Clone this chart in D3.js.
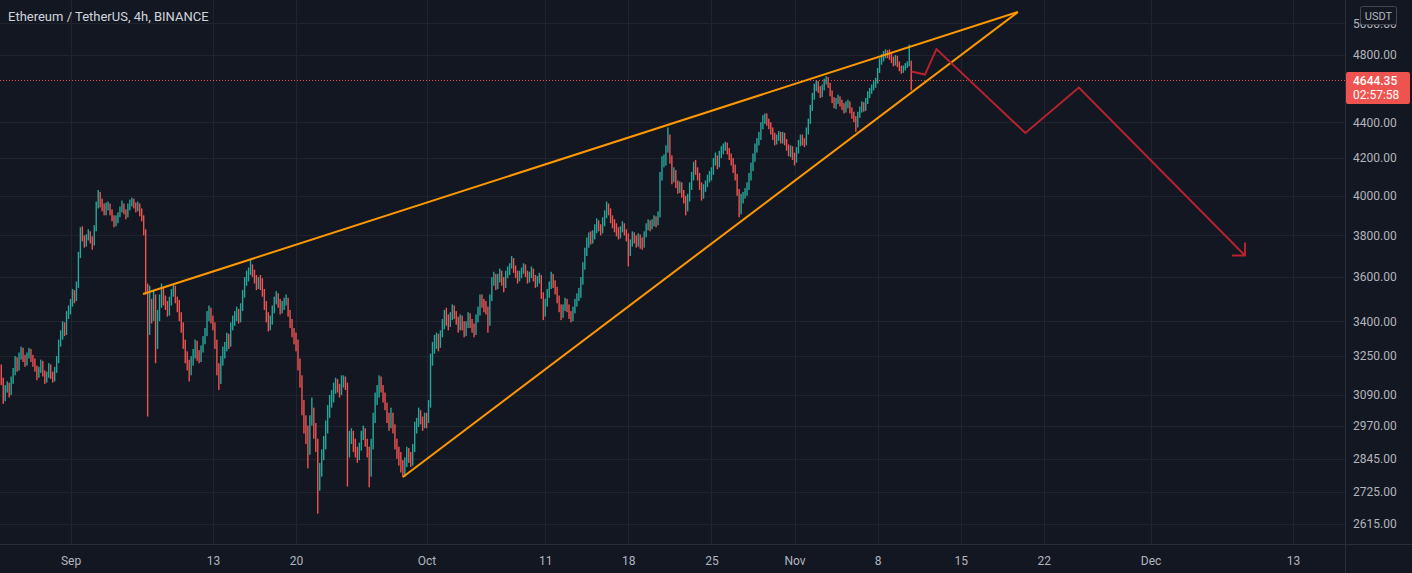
<!DOCTYPE html>
<html><head><meta charset="utf-8">
<script src="https://cdn.jsdelivr.net/npm/d3@7"></script>
<style>
html,body{margin:0;padding:0;background:#131722;}
svg{display:block;}
</style></head><body>
<svg id="chart" width="1412" height="573"></svg>
<script>
// ---------------- data ----------------
const title = "Ethereum / TetherUS, 4h, BINANCE";
const startTime = "2021-08-26T00:00:00Z";   // first 4h candle
const firstOpen = 3240;
const closes = [
3200,3150,3080,3110,3130,3100, 3150,3180,3230,3200,3250,3270, 3240,3220,3250,3270,3240,3225,
3200,3170,3190,3220,3180,3150, 3170,3200,3170,3150,3190,3230, 3300,3330,3380,3350,3420,3440,
3480,3520,3500,3560,3700,3820, 3790,3760,3790,3810,3780,3760, 3830,3950,4010,3960,3940,3920,
3940,3955,3920,3890,3860,3880, 3900,3930,3950,3920,3900,3940, 3960,3975,3950,3930,3950,3920,
3890,3820,3560,3380,3470,3420, 3500,3300,3420,3480,3530,3500, 3470,3440,3490,3530,3550,3500,
3480,3420,3380,3300,3250,3220, 3190,3230,3260,3300,3250,3240, 3280,3320,3350,3420,3440,3410,
3380,3300,3200,3150,3230,3270, 3290,3330,3300,3380,3400,3420, 3440,3410,3460,3520,3580,3600,
3620,3650,3620,3590,3560,3580, 3560,3530,3470,3420,3380,3400, 3450,3490,3510,3480,3450,3470,
3490,3500,3440,3390,3350,3330, 3300,3220,3150,3050,2980,2950, 2880,2990,3020,2950,2900,2770,
2800,2860,2900,2960,3020,3060, 3080,3110,3140,3120,3100,3150, 3160,3130,2880,2920,2940,2900,
2870,2850,2890,2930,2950,2910, 2870,2800,2900,3000,3080,3100, 3150,3120,3080,3050,3000,2980,
3010,2960,2900,2870,2850,2820, 2790,2830,2870,2850,2830,2880, 2960,2980,3010,2990,2970,3000,
2990,3050,3230,3280,3300,3320, 3300,3340,3380,3420,3400,3390, 3420,3450,3430,3400,3380,3410,
3380,3350,3380,3420,3390,3370, 3350,3410,3440,3500,3480,3460, 3450,3400,3500,3580,3600,3560,
3590,3620,3580,3560,3610,3630, 3650,3675,3640,3615,3590,3610, 3630,3650,3620,3590,3610,3630,
3600,3570,3590,3600,3520,3440, 3480,3520,3560,3600,3570,3540, 3500,3460,3430,3460,3490,3460,
3430,3410,3450,3480,3510,3530, 3580,3650,3720,3760,3790,3780, 3800,3830,3860,3840,3820,3870,
3900,3940,3920,3880,3860,3840, 3820,3800,3830,3850,3820,3790, 3720,3760,3800,3780,3760,3790,
3770,3750,3800,3840,3860,3840, 3860,3880,3860,3900,4100,4180, 4200,4250,4320,4200,4100,4120,
4060,4030,4060,4010,3980,3950, 3990,4050,4100,4150,4130,4100, 4050,4000,4040,4060,4090,4110,
4130,4180,4200,4160,4220,4240, 4260,4275,4240,4210,4180,4150, 4100,4020,3950,3980,4000,4020,
4050,4100,4150,4200,4250,4290, 4320,4380,4400,4430,4400,4380, 4350,4320,4290,4310,4330,4300,
4320,4290,4260,4230,4250,4210, 4190,4240,4280,4310,4290,4280, 4350,4400,4480,4550,4600,4620,
4590,4560,4600,4640,4660,4620, 4570,4530,4500,4520,4540,4510, 4490,4470,4500,4510,4470,4440,
4420,4380,4440,4470,4500,4480, 4520,4560,4580,4600,4620,4640, 4700,4760,4780,4800,4820,4800,
4790,4770,4750,4780,4740,4720, 4700,4720,4735,4745,4760,4644.35
];
const highs = [
3265,3215,3160,3130,3145,3140, 3165,3200,3250,3245,3265,3290, 3285,3255,3265,3285,3280,3255,
3240,3210,3205,3235,3230,3190, 3185,3220,3215,3185,3205,3250, 3320,3360,3400,3395,3445,3470,
3500,3545,3540,3580,3720,3840, 3845,3800,3805,3830,3820,3795, 3850,3970,4030,4020,3985,3960,
3965,3970,3960,3930,3900,3900, 3915,3945,3975,3960,3930,3960, 3980,3990,3985,3965,3970,3960,
3935,3900,3830,3570,3560,3500, 3540,3520,3450,3520,3570,3550, 3515,3490,3510,3545,3565,3560,
3510,3495,3440,3395,3320,3270, 3235,3250,3280,3320,3315,3275, 3295,3335,3370,3445,3470,3460,
3425,3395,3320,3220,3250,3290, 3310,3350,3345,3395,3425,3445, 3465,3455,3480,3540,3600,3630,
3645,3685,3660,3635,3610,3600, 3610,3595,3545,3490,3440,3425, 3470,3510,3535,3525,3500,3490,
3505,3520,3505,3450,3410,3370, 3350,3320,3240,3170,3070,3010, 2970,3010,3080,3040,2980,2920,
2830,2880,2930,2990,3050,3090, 3110,3140,3160,3155,3135,3170, 3170,3165,3140,2950,2960,2950,
2920,2890,2905,2950,2970,2960, 2920,2890,2920,3020,3100,3130, 3170,3165,3130,3100,3060,3020,
3040,3020,2975,2920,2890,2870, 2840,2850,2890,2885,2870,2900, 2985,3000,3040,3030,3005,3020,
3020,3070,3260,3310,3340,3350, 3345,3360,3410,3450,3460,3430, 3440,3475,3470,3445,3420,3430,
3425,3400,3400,3440,3435,3410, 3390,3430,3465,3520,3520,3500, 3490,3465,3520,3600,3625,3615,
3615,3640,3630,3600,3630,3650, 3665,3700,3690,3655,3630,3630, 3645,3665,3660,3630,3625,3650,
3640,3610,3605,3620,3610,3530, 3500,3545,3580,3625,3615,3585, 3555,3515,3475,3475,3505,3500,
3475,3445,3465,3500,3525,3550, 3600,3670,3740,3790,3815,3820, 3825,3855,3885,3875,3855,3890,
3925,3970,3960,3935,3900,3880, 3860,3840,3845,3870,3860,3830, 3810,3780,3820,3815,3800,3810,
3805,3790,3820,3860,3880,3875, 3880,3900,3895,3920,4125,4210, 4220,4270,4370,4330,4215,4150,
4135,4080,4075,4070,4030,4000, 4010,4070,4125,4180,4190,4150, 4120,4070,4060,4080,4110,4130,
4150,4200,4230,4215,4240,4265, 4280,4290,4285,4255,4225,4200, 4165,4115,4035,4010,4020,4040,
4070,4120,4175,4225,4280,4310, 4345,4400,4440,4450,4450,4420, 4400,4370,4340,4330,4350,4345,
4345,4340,4305,4275,4270,4265, 4230,4260,4300,4330,4330,4310, 4370,4420,4500,4570,4625,4645,
4640,4610,4620,4655,4670,4665, 4630,4585,4545,4540,4560,4550, 4530,4510,4520,4530,4520,4485,
4460,4435,4460,4490,4520,4515, 4540,4580,4600,4620,4640,4660, 4720,4780,4805,4825,4835,4830,
4835,4810,4790,4800,4795,4760, 4735,4735,4750,4760,4865,4765
];
const lows = [
3180,3130,3055,3065,3100,3080, 3090,3135,3170,3185,3190,3235, 3225,3205,3210,3240,3225,3205,
3185,3150,3160,3180,3165,3135, 3140,3160,3155,3140,3145,3180, 3220,3290,3320,3335,3340,3410,
3430,3465,3480,3490,3550,3690, 3770,3740,3745,3775,3760,3730, 3750,3820,3935,3940,3920,3900,
3900,3925,3900,3870,3840,3845, 3860,3890,3915,3905,3880,3890, 3925,3945,3935,3915,3920,3895,
3870,3800,3520,3005,3340,3390, 3400,3220,3280,3400,3460,3470, 3450,3420,3425,3470,3510,3480,
3440,3400,3350,3280,3220,3190, 3145,3170,3210,3240,3230,3220, 3225,3265,3300,3335,3400,3390,
3360,3280,3170,3110,3135,3210, 3240,3270,3280,3290,3360,3380, 3400,3390,3395,3445,3505,3560,
3580,3610,3600,3570,3540,3545, 3540,3510,3450,3395,3355,3360, 3385,3435,3475,3460,3430,3435,
3450,3470,3420,3370,3330,3300, 3270,3190,3120,3010,2940,2900, 2810,2860,2970,2920,2870,2650,
2730,2780,2840,2880,2940,3000, 3040,3060,3095,3100,3080,3090, 3120,3110,2745,2850,2900,2870,
2850,2830,2840,2875,2915,2890, 2850,2742,2780,2880,2980,3050, 3080,3100,3060,3030,2980,2950,
2960,2940,2880,2845,2820,2795, 2778,2780,2815,2830,2815,2820, 2870,2940,2965,2975,2950,2960,
2960,2980,3040,3210,3260,3280, 3270,3285,3330,3365,3380,3360, 3375,3405,3410,3385,3350,3360,
3360,3330,3335,3370,3370,3350, 3330,3340,3395,3425,3460,3440, 3430,3350,3380,3490,3560,3540,
3545,3575,3560,3530,3550,3595, 3610,3640,3620,3595,3570,3580, 3595,3615,3600,3570,3575,3595,
3580,3550,3555,3570,3500,3405, 3420,3465,3505,3545,3550,3520, 3480,3440,3405,3415,3445,3440,
3410,3395,3400,3435,3465,3490, 3505,3565,3635,3700,3740,3755, 3760,3780,3810,3820,3800,3810,
3845,3885,3900,3860,3835,3815, 3795,3780,3785,3815,3800,3770, 3650,3700,3745,3760,3740,3745,
3735,3730,3740,3790,3825,3820, 3830,3845,3840,3850,3890,4080, 4150,4160,4230,4170,4060,4070,
4040,4010,4015,3990,3960,3900, 3920,3970,4030,4080,4110,4080, 4030,3975,3985,4020,4045,4070,
4080,4110,4160,4140,4150,4200, 4220,4240,4220,4190,4160,4120, 4080,4000,3890,3905,3960,3985,
4000,4030,4080,4130,4180,4230, 4270,4300,4360,4390,4380,4360, 4330,4300,4270,4275,4295,4280,
4280,4270,4240,4210,4205,4190, 4160,4175,4225,4265,4270,4260, 4270,4330,4390,4465,4530,4580,
4570,4540,4545,4585,4620,4600, 4550,4510,4480,4475,4505,4490, 4470,4450,4455,4480,4450,4420,
4400,4345,4370,4425,4455,4460, 4465,4505,4540,4565,4585,4600, 4625,4690,4740,4760,4780,4780,
4770,4750,4730,4735,4725,4700, 4685,4690,4705,4720,4730,4585
];
const priceTicks = [5000,4800,4400,4200,4000,3800,3600,3400,3250,3090,2970,2845,2725,2615];
const timeTickDates  = ["2021-09-01","2021-09-13","2021-09-20","2021-10-01","2021-10-11","2021-10-18","2021-10-25","2021-11-01","2021-11-08","2021-11-15","2021-11-22","2021-12-01","2021-12-13"];
const timeTickLabels = ["Sep","13","20","Oct","11","18","25","Nov","8","15","22","Dec","13"];
const lastPrice = 4644.35;
const countdown = "02:57:58";
const currency = "USDT";
// drawings (time, price)
const upperTrendTimes = ["2021-09-07T02:35:00Z","2021-11-19T19:40:00Z"];
const upperTrendPrices = [3522, 5075];
const lowerTrendTimes = ["2021-09-29T00:15:00Z","2021-11-19T19:40:00Z"];
const lowerTrendPrices = [2779, 5075];
const forecastTimes = ["2021-11-10T20:24:00Z","2021-11-11T23:45:00Z","2021-11-12T23:00:00Z","2021-11-20T10:50:00Z","2021-11-24T23:00:00Z","2021-12-08T22:50:00Z"];
const forecastPrices = [4699, 4680, 4837, 4339, 4602, 3702];

// ---------------- layout / style ----------------
const W = 1412, H = 573, plotR = 1345, plotB = 544;
const BG = "#131722", GRID = "#20242f", AXIS_LINE = "#2a2e39", TXT = "#b2b5be";
const UP = "#26a69a", DOWN = "#ef5350";
const FONT = "Roboto, 'Liberation Sans', sans-serif";

const svg = d3.select("#chart");
svg.append("rect").attr("width", W).attr("height", H).attr("fill", BG);

const x = d3.scaleUtc()
  .domain([new Date("2021-09-01T00:00:00Z"), new Date("2021-12-13T00:00:00Z")])
  .range([70.5, 1293]);
const y = d3.scaleLog().domain([2615, 4800]).range([523.9, 55]);

svg.append("clipPath").attr("id", "plotclip")
  .append("rect").attr("x", 0).attr("y", 0).attr("width", plotR).attr("height", plotB);

const plot = svg.append("g").attr("clip-path", "url(#plotclip)");

// grid
const tickDates = timeTickDates.map(d => new Date(d + "T00:00:00Z"));
plot.append("g").selectAll("line").data(tickDates).join("line")
  .attr("x1", d => Math.round(x(d)) + 0.5).attr("x2", d => Math.round(x(d)) + 0.5)
  .attr("y1", 0).attr("y2", plotB).attr("stroke", GRID).attr("stroke-width", 1);
plot.append("g").selectAll("line").data(priceTicks).join("line")
  .attr("y1", d => Math.round(y(d)) + 0.5).attr("y2", d => Math.round(y(d)) + 0.5)
  .attr("x1", 0).attr("x2", plotR).attr("stroke", GRID).attr("stroke-width", 1);

// candles
const t0 = new Date(startTime).getTime();
const n = Math.min(closes.length, highs.length, lows.length);
const candles = d3.range(n).map(i => ({
  t: new Date(t0 + i * 4 * 3600e3),
  o: i ? closes[i - 1] : firstOpen,
  h: highs[i], l: lows[i], c: closes[i]
}));
const BW = 1.4;
const cg = plot.append("g");
cg.selectAll("rect.wick").data(candles).join("rect").attr("class", "wick")
  .attr("x", d => x(d.t) - BW / 2).attr("width", BW)
  .attr("y", d => y(Math.max(d.h, d.o, d.c)))
  .attr("height", d => Math.max(1, y(Math.min(d.l, d.o, d.c)) - y(Math.max(d.h, d.o, d.c))))
  .attr("fill", d => d.c >= d.o ? UP : DOWN);

// last price dotted line
plot.append("line")
  .attr("x1", 0).attr("x2", plotR)
  .attr("y1", Math.round(y(lastPrice)) + 0.5).attr("y2", Math.round(y(lastPrice)) + 0.5)
  .attr("stroke", DOWN).attr("stroke-width", 1).attr("stroke-dasharray", "1 2");

// trend lines
const line = d3.line().x(d => x(d[0])).y(d => y(d[1]));
const pts = (ts, ps) => ts.map((t, i) => [new Date(t), ps[i]]);
plot.append("path").datum(pts(upperTrendTimes, upperTrendPrices))
  .attr("d", line).attr("fill", "none").attr("stroke", "#ff9800").attr("stroke-width", 2);
plot.append("path").datum(pts(lowerTrendTimes, lowerTrendPrices))
  .attr("d", line).attr("fill", "none").attr("stroke", "#ff9800").attr("stroke-width", 2);

// forecast path with arrow
const fc = pts(forecastTimes, forecastPrices);
const RED = "#b8222f";
plot.append("path").datum(fc).attr("d", line).attr("fill", "none")
  .attr("stroke", RED).attr("stroke-width", 2).attr("stroke-linejoin", "miter");
{
  const a = fc[fc.length - 2], b = fc[fc.length - 1];
  const ax = x(a[0]), ay = y(a[1]), bx = x(b[0]), by = y(b[1]);
  const ang = Math.atan2(ay - by, ax - bx);
  const L = 13;
  const p1 = [bx + L * Math.cos(ang + Math.PI / 4), by + L * Math.sin(ang + Math.PI / 4)];
  const p2 = [bx + L * Math.cos(ang - Math.PI / 4), by + L * Math.sin(ang - Math.PI / 4)];
  plot.append("path").attr("d", `M${p1}L${bx},${by}L${p2}`).attr("fill", "none")
    .attr("stroke", RED).attr("stroke-width", 2);
}

// axis separators
svg.append("line").attr("x1", plotR + 0.5).attr("x2", plotR + 0.5).attr("y1", 0).attr("y2", H)
  .attr("stroke", AXIS_LINE);
svg.append("line").attr("x1", 0).attr("x2", W).attr("y1", plotB + 0.5).attr("y2", plotB + 0.5)
  .attr("stroke", AXIS_LINE);

// price axis
const yAxis = d3.axisRight(y).tickValues(priceTicks).tickFormat(d3.format(".2f"))
  .tickSize(0).tickPadding(8);
const ya = svg.append("g").attr("transform", `translate(${plotR},0)`).call(yAxis);
ya.select(".domain").remove();
ya.selectAll("text").attr("fill", TXT).attr("font-family", FONT).attr("font-size", 12);

// time axis
const xAxis = d3.axisBottom(x).tickValues(tickDates)
  .tickFormat((d, i) => timeTickLabels[i]).tickSize(0).tickPadding(12);
const xa = svg.append("g").attr("transform", `translate(0,${plotB})`).call(xAxis);
xa.select(".domain").remove();
xa.selectAll("text").attr("fill", TXT).attr("font-family", FONT).attr("font-size", 12);

// currency box
svg.append("rect").attr("x", 1360.5).attr("y", 6.5).attr("width", 36).attr("height", 18)
  .attr("rx", 2).attr("fill", BG).attr("stroke", "#434651");
svg.append("text").attr("x", 1378.5).attr("y", 19.5).attr("text-anchor", "middle")
  .attr("fill", TXT).attr("font-family", FONT).attr("font-size", 11).text(currency);

// last price badge
const ly = y(lastPrice);
svg.append("rect").attr("x", plotR + 1).attr("y", ly - 8.5).attr("width", W - plotR - 3)
  .attr("height", 32).attr("rx", 2).attr("fill", DOWN);
svg.append("text").attr("x", plotR + 8).attr("y", ly + 4.5).attr("fill", "#fff")
  .attr("font-family", FONT).attr("font-size", 12).attr("font-weight", 500)
  .text(d3.format(".2f")(lastPrice));
svg.append("text").attr("x", plotR + 8).attr("y", ly + 18.5).attr("fill", "#fff")
  .attr("font-family", FONT).attr("font-size", 12).text(countdown);

// title
svg.append("text").attr("x", 8).attr("y", 21).attr("fill", "#d1d4dc")
  .attr("font-family", FONT).attr("font-size", 13).text(title);
</script>
</body></html>
